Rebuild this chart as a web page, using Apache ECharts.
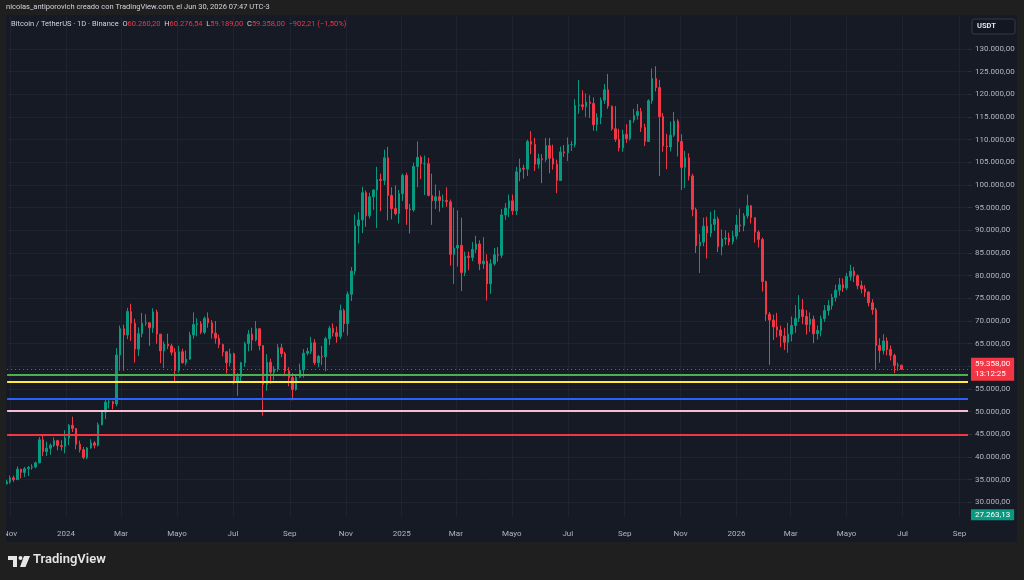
<!DOCTYPE html>
<html lang="es">
<head>
<meta charset="UTF-8">
<title>Bitcoin / TetherUS 1D</title>
<script src="https://cdn.jsdelivr.net/npm/echarts@6.0.0/dist/echarts.min.js"></script>
<style>
  html, body { margin: 0; padding: 0; background: #1f1f1f; }
  #main { width: 1024px; height: 580px; }
</style>
</head>
<body>
<div id="main"></div>
<script>
// velas de 4 dias desde el 28 oct 2023 hasta el 30 jun 2026, precios en miles de USDT
var startDate = [2023, 9, 28];
var stepDays = 4;
var firstOpen = 34.1;

var closes = [
  34.5, 35.4, 35.0, 37.3, 36.6, 37.4, 37.7, 37.8, 38.7, 43.8,
  41.2, 41.9, 42.6, 43.6, 42.5, 42.3, 44.2, 47.0, 46.3, 42.8,
  41.6, 39.9, 42.0, 43.1, 42.6, 47.1, 49.9, 52.1, 52.2, 51.7,
  62.5, 68.3, 66.9, 72.1, 69.5, 63.8, 67.2, 69.5, 69.6, 68.5,
  72.0, 67.1, 63.4, 64.9, 64.5, 63.1, 59.1, 63.2, 60.8, 61.6,
  66.9, 69.2, 69.4, 67.5, 70.6, 69.6, 67.3, 66.2, 64.8, 63.2,
  60.8, 62.8, 56.6, 57.7, 60.8, 65.0, 67.1, 65.8, 68.3, 64.6,
  56.0, 60.9, 58.7, 59.4, 64.1, 62.8, 59.0, 57.5, 54.9, 57.6,
  59.2, 62.9, 63.3, 65.2, 60.8, 62.2, 62.1, 66.1, 68.4, 67.4,
  66.6, 72.3, 69.4, 75.9, 81.0, 91.0, 92.3, 98.3, 93.2, 97.4,
  98.9, 101.2, 101.0, 106.0, 97.7, 94.8, 93.7, 98.1, 102.1, 94.7,
  94.5, 104.1, 106.1, 104.7, 104.7, 97.7, 96.5, 97.4, 96.6, 96.6,
  96.3, 84.7, 86.1, 86.7, 80.7, 84.3, 84.0, 85.8, 87.0, 82.6,
  83.2, 78.2, 82.6, 84.6, 84.5, 93.4, 94.9, 96.5, 94.3, 102.9,
  103.7, 103.5, 109.6, 109.0, 104.6, 105.8, 105.6, 108.7, 105.9, 104.6,
  101.0, 107.3, 107.1, 108.9, 108.9, 117.5, 117.7, 117.3, 118.3, 118.0,
  113.3, 114.9, 118.7, 121.0, 117.4, 112.4, 110.1, 108.2, 111.2, 110.2,
  114.3, 115.3, 116.2, 112.7, 109.6, 118.6, 123.5, 121.5, 115.1, 108.6,
  108.4, 111.0, 114.1, 109.6, 103.9, 106.0, 102.0, 94.6, 86.6, 87.4,
  90.9, 89.4, 91.3, 92.5, 86.4, 88.1, 88.3, 87.5, 88.7, 91.2,
  91.0, 93.2, 95.4, 92.8, 89.6, 88.0, 78.7, 71.5, 70.2, 68.7,
  68.0, 66.7, 65.3, 67.1, 69.0, 70.6, 72.5, 71.0, 69.2, 70.4,
  67.2, 67.9, 70.5, 72.3, 73.4, 75.2, 76.8, 78.0, 77.3, 79.8,
  81.0, 80.0, 77.8, 77.1, 76.4, 74.0, 72.5, 64.6, 63.5, 65.6,
  63.7, 62.4, 60.2, 60.26, 59.358
];

var highs = [
  35.0, 35.9, 35.9, 37.9, 37.4, 37.8, 38.0, 38.4, 39.0, 44.4,
  44.7, 43.4, 43.0, 44.3, 43.8, 43.7, 45.9, 47.3, 48.9, 46.4,
  43.6, 42.2, 42.2, 43.9, 43.5, 47.6, 50.4, 52.8, 52.9, 52.4,
  64.0, 69.0, 69.2, 72.9, 73.8, 70.5, 68.6, 71.8, 71.5, 69.7,
  72.8, 72.5, 67.1, 65.5, 67.2, 65.0, 64.0, 64.5, 63.9, 63.5,
  67.6, 71.9, 70.6, 70.0, 71.0, 71.9, 70.2, 70.0, 67.0, 65.0,
  63.4, 63.9, 63.0, 58.5, 61.0, 65.4, 68.0, 68.5, 70.0, 68.3,
  64.6, 62.7, 61.7, 60.0, 64.9, 65.0, 63.2, 59.8, 58.5, 58.0,
  60.6, 63.8, 64.1, 66.5, 66.0, 62.5, 64.5, 66.5, 68.9, 69.5,
  68.8, 73.6, 72.7, 76.5, 81.9, 93.5, 94.0, 99.6, 98.8, 98.3,
  99.0, 104.0, 102.5, 107.8, 108.4, 99.5, 99.9, 98.9, 102.5, 102.7,
  95.8, 104.9, 109.6, 106.5, 106.5, 106.0, 102.5, 100.1, 98.8, 97.9,
  99.5, 96.8, 95.0, 94.4, 92.8, 85.3, 85.3, 87.4, 88.8, 87.8,
  88.5, 84.7, 83.6, 86.1, 86.3, 94.7, 96.0, 97.9, 97.9, 104.0,
  105.8, 104.5, 110.0, 111.9, 110.4, 106.9, 106.8, 110.4, 110.4, 108.9,
  105.6, 108.5, 108.8, 110.5, 109.7, 118.9, 123.2, 120.9, 120.2, 119.8,
  119.3, 115.8, 119.3, 122.3, 124.5, 117.5, 117.4, 112.4, 112.2, 113.4,
  114.3, 116.8, 117.9, 117.0, 113.5, 118.9, 125.7, 126.2, 123.2, 115.9,
  111.3, 114.0, 116.1, 114.5, 111.2, 107.5, 107.0, 102.5, 95.0, 89.2,
  92.8, 93.0, 94.1, 94.5, 93.0, 90.2, 90.0, 89.5, 89.9, 93.4,
  94.8, 93.8, 97.9, 95.6, 92.8, 90.0, 88.4, 78.9, 72.0, 71.4,
  71.8, 69.0, 68.5, 69.6, 71.0, 73.5, 75.7, 74.8, 72.4, 71.9,
  71.2, 69.0, 71.2, 73.5, 74.6, 76.0, 78.0, 79.5, 79.4, 80.6,
  82.4, 81.9, 80.3, 78.9, 77.9, 76.5, 74.8, 72.9, 66.2, 67.1,
  66.4, 64.6, 62.8, 60.8, 60.28
];

var lows = [
  33.9, 34.1, 34.5, 35.0, 35.3, 35.6, 35.8, 37.2, 37.5, 38.6,
  40.2, 40.2, 40.5, 42.2, 41.5, 41.4, 40.8, 42.6, 45.5, 41.7,
  41.0, 39.5, 39.5, 41.8, 41.9, 42.3, 47.0, 48.4, 50.7, 50.5,
  51.2, 59.0, 59.0, 66.0, 65.6, 60.8, 62.3, 66.4, 68.9, 64.5,
  67.4, 65.0, 60.7, 59.6, 63.8, 62.4, 56.5, 58.6, 60.6, 60.2,
  61.4, 66.1, 66.6, 67.1, 67.1, 68.5, 66.1, 65.0, 64.0, 62.2,
  58.4, 60.0, 56.0, 53.5, 56.6, 59.9, 63.3, 63.5, 65.5, 63.5,
  49.1, 54.6, 56.1, 56.9, 58.8, 62.0, 57.8, 55.6, 52.5, 54.6,
  57.4, 57.5, 62.4, 62.7, 60.3, 59.8, 60.3, 58.9, 64.7, 66.6,
  65.2, 66.0, 67.5, 66.8, 74.4, 80.2, 87.1, 89.4, 90.8, 92.6,
  94.5, 90.5, 94.2, 100.0, 92.2, 92.4, 93.3, 91.5, 96.5, 91.2,
  89.3, 94.1, 99.5, 101.3, 97.8, 97.5, 91.2, 94.7, 94.1, 95.0,
  95.2, 82.2, 78.2, 82.0, 76.6, 79.9, 81.2, 83.2, 85.0, 81.2,
  81.5, 74.5, 76.0, 82.2, 83.1, 83.9, 92.3, 92.9, 93.4, 93.4,
  100.8, 101.4, 102.0, 106.8, 103.1, 103.6, 100.4, 105.1, 102.6, 103.4,
  98.2, 100.9, 106.2, 105.3, 107.5, 108.3, 115.7, 116.5, 115.0, 114.8,
  112.0, 111.9, 113.4, 117.9, 116.8, 112.0, 109.5, 107.4, 107.3, 109.3,
  109.8, 113.7, 114.4, 111.7, 108.6, 109.5, 117.9, 120.6, 102.0, 107.3,
  103.5, 107.4, 110.6, 106.3, 98.9, 99.3, 101.0, 93.1, 85.0, 80.6,
  86.5, 83.8, 88.5, 89.9, 85.2, 84.5, 86.8, 86.7, 86.9, 88.0,
  89.6, 89.8, 92.6, 91.5, 87.3, 86.2, 76.5, 70.0, 60.3, 65.8,
  66.4, 64.2, 63.6, 63.0, 65.5, 67.4, 69.8, 69.3, 67.0, 67.6,
  65.1, 65.9, 66.6, 69.8, 71.2, 72.5, 74.3, 75.6, 76.4, 76.8,
  78.9, 78.6, 77.0, 76.1, 75.3, 73.2, 71.4, 59.2, 60.8, 62.6,
  62.4, 61.3, 58.5, 59.0, 59.189
];

// lineas horizontales dibujadas por el usuario
var levels = [58.15, 56.5, 52.9, 50.1, 45.0];
var lastPrice = 59.358;
var lowLabel = 27.263;

var yTicks = [30, 35, 40, 45, 50, 55, 60, 65, 70, 75, 80, 85, 90, 95, 100, 105, 110, 115, 120, 125, 130];
var xTicks = [
  [2023, 10], [2024, 0], [2024, 2], [2024, 4], [2024, 6], [2024, 8], [2024, 10],
  [2025, 0], [2025, 2], [2025, 4], [2025, 6], [2025, 8], [2025, 10],
  [2026, 0], [2026, 2], [2026, 4], [2026, 6], [2026, 8]
];
var monthNames = ['', 'Feb', 'Mar', 'Abr', 'Mayo', 'Jun', 'Jul', 'Ago', 'Sep', 'Oct', 'Nov', 'Dic'];

function fmt(v) {
  var s = (Math.round(v * 100000) / 100).toFixed(2).split('.');
  return s[0].replace(/\B(?=(\d{3})+(?!\d))/g, '.') + ',' + s[1];
}

var candles = [];
for (var i = 0; i < closes.length; i++) {
  var t = new Date(startDate[0], startDate[1], startDate[2] + i * stepDays).getTime();
  var o = i === 0 ? firstOpen : closes[i - 1];
  candles.push([t, o, closes[i], lows[i], highs[i]]);
}
var xTickValues = xTicks.map(function (d) { return new Date(d[0], d[1], 1).getTime(); });

var levelColors = ['#4caf50', '#ffeb3b', '#2962ff', '#f8bbd0', '#f23645'];
var markData = levels.map(function (v, k) {
  return { yAxis: v, lineStyle: { color: levelColors[k], width: 2, type: 'solid' }, label: { show: false } };
});
markData.push({
  yAxis: lastPrice,
  lineStyle: { color: '#f23645', width: 1, type: [1, 3] },
  label: {
    show: true, position: 'end', distance: 3,
    formatter: fmt(lastPrice) + '\n13:12:25',
    backgroundColor: '#f23645', color: '#ffffff', fontSize: 8, lineHeight: 10,
    padding: [2, 4, 1, 4], align: 'left'
  }
});
markData.push({
  yAxis: lowLabel,
  lineStyle: { color: 'rgba(0,0,0,0)', width: 1 },
  label: {
    show: true, position: 'end', distance: 3,
    formatter: '27.263,13',
    backgroundColor: '#089981', color: '#ffffff', fontSize: 8,
    padding: [2, 4, 1, 4]
  }
});

var font = 'Roboto, "Noto Sans", sans-serif';
var outer = '#1f1f1f';

var chart = echarts.init(document.getElementById('main'));
chart.setOption({
  backgroundColor: '#161a25',
  animation: false,
  textStyle: { fontFamily: font },
  grid: { left: 5, right: 56, top: 17, bottom: 63 },
  xAxis: {
    type: 'value',
    min: new Date(2023, 9, 28, 19).getTime(),
    max: new Date(2026, 8, 10, 7).getTime(),
    axisLine: { show: false },
    axisTick: { show: true, length: 0, customValues: xTickValues },
    splitLine: { show: true, lineStyle: { color: '#1f2331', width: 1 } },
    axisLabel: {
      customValues: xTickValues,
      color: '#b2b5be', fontSize: 8, margin: 13,
      formatter: function (val) {
        var d = new Date(val);
        return d.getMonth() === 0 ? String(d.getFullYear()) : monthNames[d.getMonth()];
      }
    }
  },
  yAxis: {
    type: 'value',
    position: 'right',
    min: 26.76,
    max: 137.06,
    axisLine: { show: false },
    axisTick: { show: true, length: 4, customValues: yTicks, lineStyle: { color: '#2a2e39' } },
    splitLine: { show: true, lineStyle: { color: '#1f2331', width: 1 } },
    axisLabel: {
      customValues: yTicks,
      color: '#b2b5be', fontSize: 8, margin: 7,
      formatter: function (v) { return fmt(v); }
    }
  },
  series: [{
    type: 'candlestick',
    data: candles,
    barWidth: 2,
    itemStyle: {
      color: '#089981', color0: '#f23645',
      borderColor: '#089981', borderColor0: '#f23645', borderWidth: 1
    },
    markLine: { silent: true, symbol: ['none', 'none'], animation: false, data: markData }
  }],
  graphic: [
    { type: 'rect', shape: { x: 0, y: 0, width: 1024, height: 15 }, style: { fill: outer }, z: 100 },
    { type: 'rect', shape: { x: 0, y: 542, width: 1024, height: 38 }, style: { fill: outer }, z: 100 },
    { type: 'rect', shape: { x: 0, y: 0, width: 6, height: 580 }, style: { fill: outer }, z: 100 },
    { type: 'rect', shape: { x: 1017, y: 0, width: 7, height: 580 }, style: { fill: outer }, z: 100 },
    {
      type: 'text', left: 6, top: 3, z: 101,
      style: {
        text: 'nicolas_antiporovich creado con TradingView.com, el Jun 30, 2026 07:47 UTC-3',
        fill: '#d1d4dc', fontSize: 7.5, fontFamily: font
      }
    },
    {
      type: 'text', left: 11, top: 20, z: 101,
      style: {
        text: '{g|Bitcoin / TetherUS · 1D · Binance}  {g|O}{r|60.260,20}  {g|H}{r|60.276,54}  {g|L}{r|59.189,00}  {g|C}{r|59.358,00}  {r|−902,21 (−1,50%)}',
        fontSize: 7.5, fontFamily: font,
        rich: {
          g: { fill: '#d1d4dc', fontSize: 7.5, fontFamily: font },
          r: { fill: '#f23645', fontSize: 7.5, fontFamily: font }
        }
      }
    },
    {
      type: 'rect', z: 101,
      shape: { x: 972, y: 19, width: 43, height: 15, r: 2 },
      style: { fill: '#131722', stroke: '#363a45', lineWidth: 1 }
    },
    {
      type: 'text', left: 977, top: 22, z: 102,
      style: { text: 'USDT', fill: '#e0e3eb', fontSize: 7.5, fontWeight: 'bold', fontFamily: font }
    },
    // logo TradingView
    { type: 'rect', z: 101, shape: { x: 8, y: 556, width: 9, height: 4 }, style: { fill: '#e6e6e6' } },
    { type: 'rect', z: 101, shape: { x: 13, y: 556, width: 4, height: 11 }, style: { fill: '#e6e6e6' } },
    { type: 'circle', z: 101, shape: { cx: 20.5, cy: 558, r: 2 }, style: { fill: '#e6e6e6' } },
    { type: 'polygon', z: 101, shape: { points: [[24, 556], [30, 556], [25.5, 567], [20, 567]] }, style: { fill: '#e6e6e6' } },
    {
      type: 'text', left: 33, top: 553, z: 101,
      style: { text: 'TradingView', fill: '#e6e6e6', fontSize: 13, fontWeight: 600, fontFamily: font }
    }
  ]
});
</script>
</body>
</html>
